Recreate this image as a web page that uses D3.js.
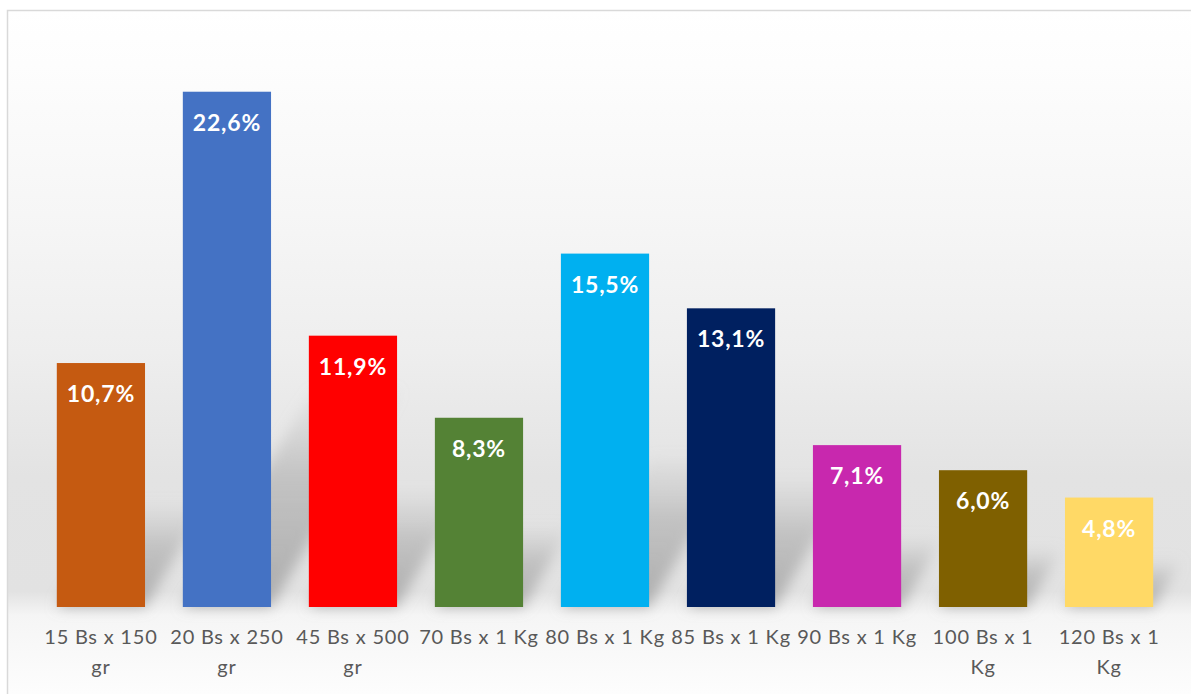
<!DOCTYPE html>
<html>
<head>
<meta charset="utf-8">
<script src="https://cdn.jsdelivr.net/npm/d3@7"></script>
<style>
  html, body { margin: 0; padding: 0; background: #ffffff; }
  svg { display: block; }
</style>
</head>
<body>
<svg id="chart" width="1191" height="694"></svg>
<script>
// ---- data ----
const categories = ["15 Bs x 150 gr", "20 Bs x 250 gr", "45 Bs x 500 gr", "70 Bs x 1 Kg", "80 Bs x 1 Kg", "85 Bs x 1 Kg", "90 Bs x 1 Kg", "100 Bs x 1 Kg", "120 Bs x 1 Kg"];
const categoryLines = [["15 Bs x 150", "gr"], ["20 Bs x 250", "gr"], ["45 Bs x 500", "gr"], ["70 Bs x 1 Kg"], ["80 Bs x 1 Kg"], ["85 Bs x 1 Kg"], ["90 Bs x 1 Kg"], ["100 Bs x 1", "Kg"], ["120 Bs x 1", "Kg"]];
const values = [10.7, 22.6, 11.9, 8.3, 15.5, 13.1, 7.1, 6.0, 4.8];
const valueLabels = ["10,7%", "22,6%", "11,9%", "8,3%", "15,5%", "13,1%", "7,1%", "6,0%", "4,8%"];
const colors = ["#C55A11", "#4472C4", "#FF0000", "#548235", "#00B0F0", "#002060", "#C828AE", "#7F6000", "#FFD966"];

const W = 1191, H = 694;
const svg = d3.select("#chart");
const defs = svg.append("defs");

// background gradient
const bg = defs.append("linearGradient").attr("id", "bgGrad")
  .attr("gradientUnits", "userSpaceOnUse").attr("x1", 0).attr("y1", 10).attr("x2", 0).attr("y2", H);
[[0, "#ffffff"], [0.08, "#fdfdfd"], [0.3, "#f6f6f6"], [0.5, "#eeeeee"], [0.68, "#e3e3e3"], [0.85, "#e2e2e2"], [0.885, "#f5f5f5"], [1, "#fdfdfd"]]
  .forEach(([o, c]) => bg.append("stop").attr("offset", o).attr("stop-color", c));

const blur = defs.append("filter").attr("id", "blur").attr("x", "-50%").attr("y", "-50%").attr("width", "200%").attr("height", "200%");
blur.append("feGaussianBlur").attr("stdDeviation", 7);

const shGrad = defs.append("linearGradient").attr("id", "shGrad").attr("x1", 0).attr("y1", 1).attr("x2", 0).attr("y2", 0);
shGrad.append("stop").attr("offset", 0).attr("stop-color", "#9a9a9a").attr("stop-opacity", 0.75);
shGrad.append("stop").attr("offset", 0.6).attr("stop-color", "#a8a8a8").attr("stop-opacity", 0.55);
shGrad.append("stop").attr("offset", 1).attr("stop-color", "#bbbbbb").attr("stop-opacity", 0.1);

// frame
svg.append("rect").attr("x", 7.5).attr("y", 10.5).attr("width", W).attr("height", H)
  .attr("fill", "url(#bgGrad)").attr("stroke", "#d9d9d9").attr("stroke-width", 1.5);

// scales
const x = d3.scaleBand().domain(categories).range([19, 1191]).paddingInner(0.3).paddingOuter(0.3);
const y = d3.scaleLinear().domain([0, 25]).range([607, 37]);

const data = categories.map((c, i) => ({ c, v: values[i], label: valueLabels[i], color: colors[i], lines: categoryLines[i] }));

// shadows
const plot = svg.append("g");
plot.append("g").attr("filter", "url(#blur)")
  .selectAll("path").data(data).join("path")
  .attr("fill", "url(#shGrad)")
  .attr("d", d => {
    const x0 = x(d.c), x1 = x0 + x.bandwidth(), base = y(0);
    const h = (y(0) - y(d.v)) * 0.42;
    const dx = h * 0.6;
    return `M${x0},${base}L${x1},${base}L${x1 + dx},${base - h}L${x0 + dx},${base - h}Z`;
  });

// bars
plot.append("g").selectAll("rect").data(data).join("rect")
  .attr("x", d => x(d.c))
  .attr("y", d => y(d.v))
  .attr("width", x.bandwidth())
  .attr("height", d => y(0) - y(d.v))
  .attr("fill", d => d.color);

// value labels
plot.append("g").selectAll("text").data(data).join("text")
  .attr("x", d => x(d.c) + x.bandwidth() / 2)
  .attr("y", d => y(d.v) + 39)
  .attr("text-anchor", "middle")
  .attr("font-family", "Lato, 'Open Sans', sans-serif")
  .attr("font-weight", "bold")
  .attr("font-size", 23)
  .attr("letter-spacing", 0.8)
  .attr("fill", "#ffffff")
  .text(d => d.label);

// category labels
const cat = svg.append("g").selectAll("text").data(data).join("text")
  .attr("text-anchor", "middle")
  .attr("font-family", "Lato, 'Open Sans', sans-serif")
  .attr("font-size", 20)
  .attr("fill", "#595959")
  .attr("letter-spacing", 0.8)
  .attr("transform", d => `translate(${x(d.c) + x.bandwidth() / 2},644)`);
cat.selectAll("tspan").data(d => d.lines).join("tspan")
  .attr("x", 0)
  .attr("dy", (l, i) => i === 0 ? 0 : 30)
  .text(l => l);
</script>
</body>
</html>
